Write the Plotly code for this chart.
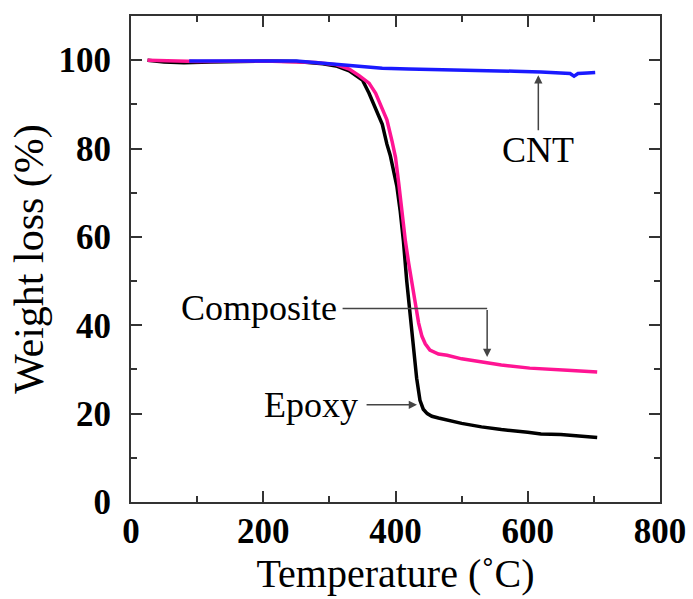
import plotly.graph_objects as go

# ---- data ----
epoxy_x = [25, 50, 80, 120, 200, 250, 290, 310, 330, 350, 360, 370, 380, 387, 392, 397, 402, 407, 412, 417,
           422, 427, 432, 437, 442, 448, 455, 465, 480, 500, 530, 560, 600, 620, 650, 670, 705]
epoxy_y = [100, 99.6, 99.4, 99.6, 99.8, 99.7, 99.2, 98.7, 97.6, 95.5, 92.5, 89.2, 85.5, 81, 78.5, 75, 71.5, 66, 59, 50,
           42, 35, 28, 23, 21, 20, 19.4, 19.0, 18.4, 17.8, 17.0, 16.4, 15.8, 15.4, 15.3, 15.0, 14.6]

comp_x = [25, 60, 100, 200, 280, 310, 330, 345, 360, 370, 380, 387, 395, 400, 405, 410, 415, 420, 425, 430,
          435, 440, 445, 452, 465, 478, 500, 538, 560, 603, 634, 660, 705]
comp_y = [100, 99.8, 99.7, 99.8, 99.5, 99, 98, 96.5, 94.8, 92.5, 89, 86.5, 81.5, 78, 72, 65, 59, 54, 50, 45,
          40.5, 37.5, 35.8, 34.4, 33.5, 33.2, 32.4, 31.5, 31.0, 30.3, 30.1, 29.8, 29.4]

cnt_x = [88, 150, 200, 250, 300, 340, 380, 420, 460, 500, 540, 580, 620, 650, 664, 670, 676, 690, 702]
cnt_y = [99.8, 99.8, 99.9, 99.8, 99.2, 98.7, 98.2, 98.0, 97.9, 97.8, 97.6, 97.5, 97.3, 97.2, 97.0, 96.4, 97.0, 97.1, 97.2]

x_ticks = [0, 200, 400, 600, 800]
y_ticks = [0, 20, 40, 60, 80, 100]

fig = go.Figure()
fig.add_trace(go.Scatter(x=epoxy_x, y=epoxy_y, mode="lines", line=dict(color="#000000", width=3.5), name="Epoxy"))
fig.add_trace(go.Scatter(x=comp_x, y=comp_y, mode="lines", line=dict(color="#ff1493", width=3.5), name="Composite"))
fig.add_trace(go.Scatter(x=cnt_x, y=cnt_y, mode="lines", line=dict(color="#1a1aff", width=3.5), name="CNT"))

axis_common = dict(
    showline=True, linewidth=2, linecolor="#333333", mirror="ticks",
    ticks="inside", ticklen=11, tickwidth=2, tickcolor="#333333",
    showgrid=False, zeroline=False, automargin=False,
    tickfont=dict(family="Liberation Serif", size=35, color="black", weight="bold"),
)

fig.update_xaxes(range=[0, 800], tickvals=x_ticks, ticktext=[str(v) for v in x_ticks],
                 minor=dict(dtick=100, ticks="inside", ticklen=6, tickwidth=2, tickcolor="#333333"),
                 ticklabelstandoff=-3,
                 title=dict(text="Temperature (˚C)", font=dict(family="Liberation Serif", size=40, color="black"), standoff=0),
                 **axis_common)
fig.update_yaxes(range=[0, 110], tickvals=y_ticks, ticktext=[str(v) for v in y_ticks],
                 minor=dict(tickvals=[10, 30, 50, 70, 90], ticks="inside", ticklen=6, tickwidth=2, tickcolor="#333333"),
                 ticklabelstandoff=11,
                 title=dict(text="Weight loss (%)", font=dict(family="Liberation Serif", size=42, color="black"), standoff=2),
                 **axis_common)

font_ann = dict(family="Liberation Serif", size=36, color="black")
arrow_col = "#444444"

# CNT label and arrow
fig.add_annotation(x=616, y=79.6, text="CNT", showarrow=False, font=font_ann)
fig.add_annotation(x=616, y=96.6, ax=616, ay=83.8, axref="x", ayref="y", text="", showarrow=True,
                   arrowhead=2, arrowsize=1.1, arrowwidth=1.5, arrowcolor=arrow_col, standoff=0)

# Composite label with elbow arrow
fig.add_annotation(x=193, y=44, text="Composite", showarrow=False, font=font_ann)
fig.add_shape(type="line", x0=320, y0=43.8, x1=538.6, y1=43.8, line=dict(color=arrow_col, width=1.5))
fig.add_annotation(x=538.6, y=32.8, ax=538.6, ay=43.8, axref="x", ayref="y", text="", showarrow=True,
                   arrowhead=2, arrowsize=1.1, arrowwidth=1.5, arrowcolor=arrow_col, standoff=0)

# Epoxy label and arrow
fig.add_annotation(x=272, y=22, text="Epoxy", showarrow=False, font=font_ann)
fig.add_annotation(x=432.5, y=22, ax=354, ay=22, axref="x", ayref="y", text="", showarrow=True,
                   arrowhead=2, arrowsize=1.1, arrowwidth=1.5, arrowcolor=arrow_col, standoff=0)

fig.update_layout(
    width=693, height=599,
    margin=dict(l=131, r=33, t=16, b=97),
    paper_bgcolor="white", plot_bgcolor="white",
    showlegend=False,
)

fig.write_html("out.html", config={"displayModeBar": False},
               post_script="document.body.style.margin='0';document.body.style.overflow='hidden';")
